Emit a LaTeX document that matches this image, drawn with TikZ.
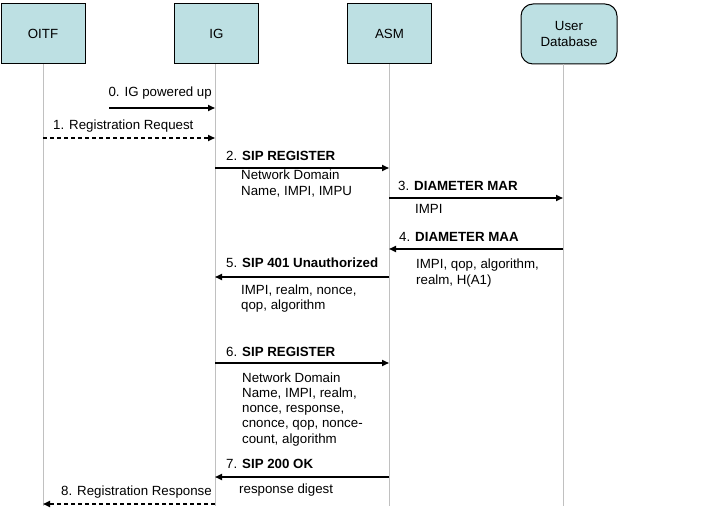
\documentclass[tikz,border=0pt]{standalone}
\usepackage{fontspec}
\setmainfont{Liberation Sans}
\usetikzlibrary{arrows.meta}
\definecolor{boxfill}{RGB}{189,224,227}
\definecolor{lifegray}{RGB}{192,192,192}
\begin{document}
\begin{tikzpicture}[x=1pt,y=-1pt,
  font=\fontsize{13.3}{15.3}\selectfont,
  actor/.style={draw=black, line width=1pt, fill=boxfill, minimum width=84pt,
    minimum height=60pt, inner sep=0pt, align=center},
  lifeline/.style={draw=lifegray, line width=1pt},
  msg/.style={line width=1.6pt, -{Triangle[length=7pt,width=6pt]}},
  rmsg/.style={msg, dash pattern=on 4pt off 3pt},
  lab/.style={anchor=base west, inner sep=0pt, align=left},
  rlab/.style={anchor=base east, inner sep=0pt, align=right}]
\useasboundingbox (0,0) rectangle (722,518);

% participants
\node[actor] (oitf) at (43,34) {OITF};
\node[actor] (ig) at (216.5,34) {IG};
\node[actor] (asm) at (389.5,34) {ASM};
\node[actor, minimum width=96pt, rounded corners=12pt] (ud) at (569,34) {User\\Database};

% lifeline ends
\coordinate (oitfE) at (43,506);
\coordinate (igE) at (215,506);
\coordinate (asmE) at (389,506);
\coordinate (udE) at (563,506);

\draw[lifeline] (oitf.south -| oitfE) -- (oitfE);
\draw[lifeline] (ig.south -| igE) -- (igE);
\draw[lifeline] (asm.south -| asmE) -- (asmE);
\draw[lifeline] (ud.south -| udE) -- (udE);

% message points
\coordinate (m0s) at (109,108);   \coordinate (m0e) at (215,108);
\coordinate (m1s) at (43,138);    \coordinate (m1e) at (215,138);
\coordinate (m2s) at (215,168);   \coordinate (m2e) at (389,168);
\coordinate (m3s) at (389,198);   \coordinate (m3e) at (563,198);
\coordinate (m4s) at (563,249);   \coordinate (m4e) at (389,249);
\coordinate (m5s) at (389,277);   \coordinate (m5e) at (215,277);
\coordinate (m6s) at (215,363);   \coordinate (m6e) at (389,363);
\coordinate (m7s) at (389,477);   \coordinate (m7e) at (215,477);
\coordinate (m8s) at (215,504);   \coordinate (m8e) at (43,504);

\draw[msg] (m0s) -- (m0e);
\draw[rmsg] (m1s) -- (m1e);
\draw[msg] (m2s) -- (m2e);
\draw[msg] (m3s) -- (m3e);
\draw[msg] (m4s) -- (m4e);
\draw[msg] (m5s) -- (m5e);
\draw[msg] (m6s) -- (m6e);
\draw[msg] (m7s) -- (m7e);
\draw[rmsg] (m8s) -- (m8e);

% labels (multi-line nodes: base anchor sits on the last line)
\node[rlab] (l0) at (212,97) {0. IG powered up};
\node[lab] (l1) at (53,130) {1. Registration Request};
\node[lab] (l2) at (226,161) {2. \textbf{SIP REGISTER}};
\node[lab] (p2) at (241,195.3) {Network Domain\\Name, IMPI, IMPU};
\node[lab] (l3) at (398,191) {3. \textbf{DIAMETER MAR}};
\node[lab] (p3) at (415,214) {IMPI};
\node[lab] (l4) at (399,242) {4. \textbf{DIAMETER MAA}};
\node[lab] (p4) at (416,284) {IMPI, qop, algorithm,\\realm, H(A1)};
\node[lab] (l5) at (226,268) {5. \textbf{SIP 401 Unauthorized}};
\node[lab] (p5) at (241,309.5) {IMPI, realm, nonce,\\qop, algorithm};
\node[lab] (l6) at (226,356) {6. \textbf{SIP REGISTER}};
\node[lab] (p6) at (242,443.2) {Network Domain\\Name, IMPI, realm,\\nonce, response,\\cnonce, qop, nonce-\\count, algorithm};
\node[lab] (l7) at (226,468) {7. \textbf{SIP 200 OK}};
\node[lab] (p7) at (239,493) {response digest};
\node[rlab] (l8) at (212,495) {8. Registration Response};
\end{tikzpicture}
\end{document}
